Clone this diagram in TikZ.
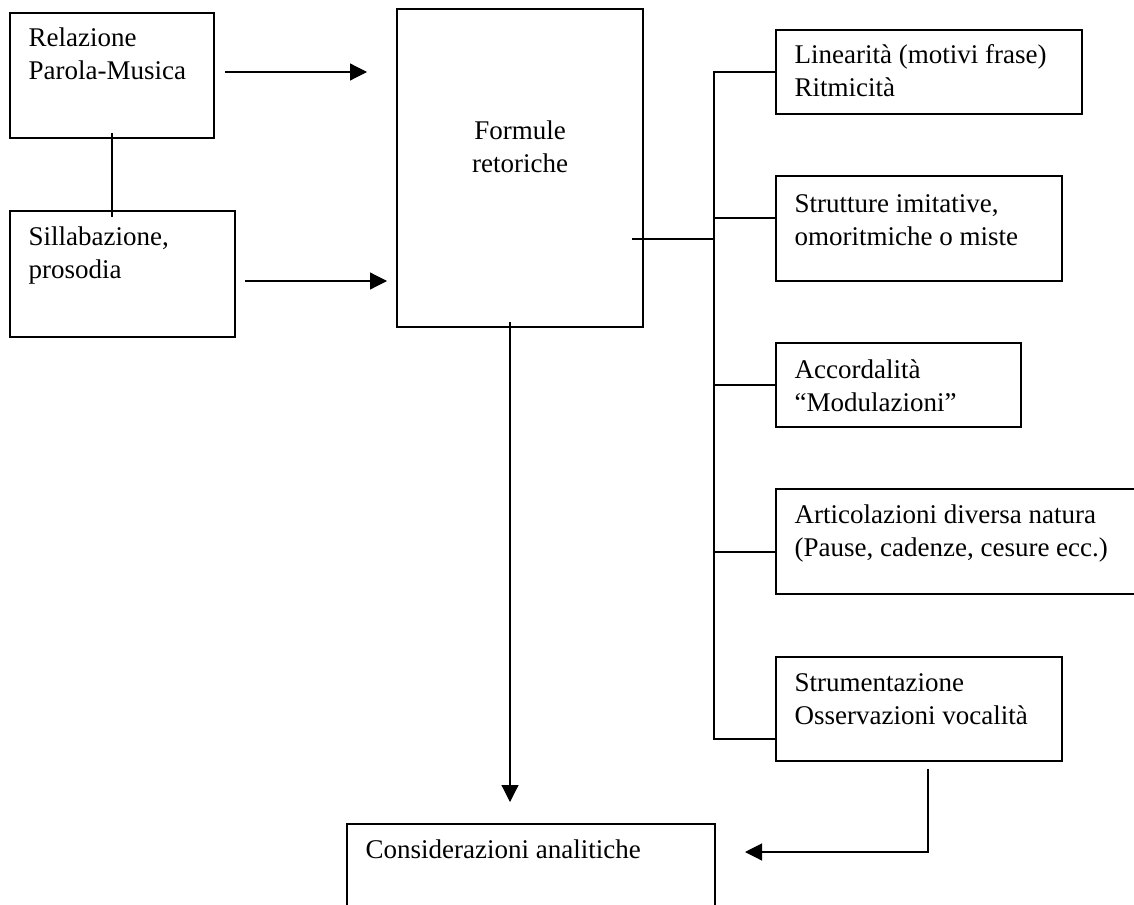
\documentclass[tikz,border=0pt]{standalone}
\usepackage{fontspec}
\setmainfont{Liberation Serif}
\usetikzlibrary{arrows.meta}
\begin{document}
\begin{tikzpicture}[x=1pt,y=-1pt,line width=1.2pt,
  box/.style={draw,line width=1.2pt,anchor=north west,inner sep=0pt,outer sep=0pt},
  txt/.style={anchor=base west,inner sep=0pt,font=\fontsize{27}{33}\selectfont},
  arr/.style={-{Triangle[length=17pt,width=17pt]}}]
\fill[white] (0,0) rectangle (1134,904);
\clip (0,0) rectangle (1134,904);
% boxes
\node[box,minimum width=204pt,minimum height=125pt] (rel) at (10,13) {};
\node[box,minimum width=225pt,minimum height=126pt] (sil) at (10,211) {};
\node[box,minimum width=246pt,minimum height=318pt] (for) at (397,9) {};
\node[box,minimum width=306pt,minimum height=84pt] (lin) at (776,30) {};
\node[box,minimum width=286pt,minimum height=105pt] (str) at (776,176) {};
\node[box,minimum width=245pt,minimum height=84pt] (acc) at (776,343) {};
\node[box,minimum width=380pt,minimum height=105pt] (art) at (776,489) {};
\node[box,minimum width=286pt,minimum height=104pt] (stm) at (776,657) {};
\node[box,minimum width=368pt,minimum height=110pt] (con) at (347,824) {};
% texts
\node[txt] (trel) at (28,47) {\begin{tabular}[t]{@{}l@{}}Relazione\\Parola-Musica\end{tabular}};
\node[txt] (tsil) at (28,245) {\begin{tabular}[t]{@{}l@{}}Sillabazione,\\prosodia\end{tabular}};
\node[txt,anchor=base] (tfor) at (520,140) {\begin{tabular}[t]{@{}c@{}}Formule\\retoriche\end{tabular}};
\node[txt] (tlin) at (794,64) {\begin{tabular}[t]{@{}l@{}}Linearità (motivi frase)\\Ritmicità\end{tabular}};
\node[txt] (tstr) at (794,212) {\begin{tabular}[t]{@{}l@{}}Strutture imitative,\\omoritmiche o miste\end{tabular}};
\node[txt] (tacc) at (794,378) {\begin{tabular}[t]{@{}l@{}}Accordalità\\“Modulazioni”\end{tabular}};
\node[txt] (tart) at (794,523) {\begin{tabular}[t]{@{}l@{}}Articolazioni diversa natura\\(Pause, cadenze, cesure ecc.)\end{tabular}};
\node[txt] (tstm) at (794,691) {\begin{tabular}[t]{@{}l@{}}Strumentazione\\Osservazioni vocalità\end{tabular}};
\node[txt] (tcon) at (365,858) {Considerazioni analitiche};
% connectors
\draw[arr,shorten <=11pt,shorten >=30pt] (rel.east |- 0,72) -- (for.west |- 0,72);
\draw[shorten <=-5pt,shorten >=-6pt] (rel.south) -- (rel.south |- sil.north);
\draw[arr,shorten <=10pt,shorten >=10pt] (sil.east |- 0,281) -- (for.west |- 0,281);
\coordinate (tkbot) at (714,739);
\draw (lin.west) -| (tkbot) -- (stm.west |- tkbot);
\draw[shorten <=-11pt] (for.east |- 0,239) -- (tkbot |- 0,239);
\draw (str.west |- 0,218) -- (tkbot |- 0,218);
\draw (acc.west) -- (tkbot |- acc.west);
\draw (art.west |- 0,552) -- (tkbot |- 0,552);
\coordinate (dn) at (510,802);
\draw[arr,shorten <=-5pt] (dn |- for.south) -- (dn);
\coordinate (cn) at (745,852);
\draw[arr,shorten <=8pt] ([xshift=9pt]stm.south) |- (cn);
\end{tikzpicture}
\end{document}
